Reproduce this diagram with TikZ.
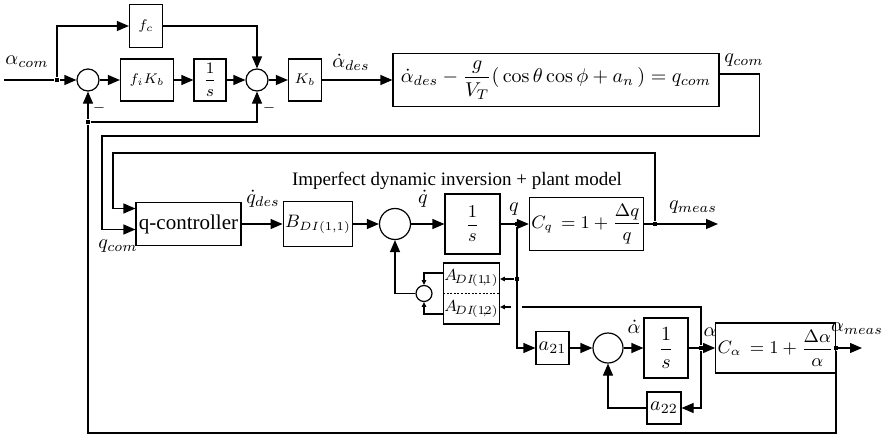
\documentclass[tikz,border=0pt]{standalone}
\usepackage{amsmath}
\usepackage[no-math]{fontspec}
\setmainfont{Liberation Serif}
\usetikzlibrary{arrows.meta}

\begin{document}
\begin{tikzpicture}[
x=0.5pt, y=-0.5pt,
line width=0.6pt,
% every node/.style={draw=red},
block/.style ={draw, inner sep=1pt, align=center},
sum/.style ={draw, circle, inner sep=0pt, minimum size=#1},
junction/.style ={fill, rectangle, inner sep=0pt, minimum size=2.2pt},
arr/.style ={-{Triangle[length=6pt,width=5pt]}},
sarr/.style ={-{Triangle[length=2.4pt,width=2.2pt]}},
lbl/.style ={inner sep=0pt}
]
\useasboundingbox (0,0) rectangle (884,434);

% outer alpha loop
\coordinate (cin) at (4,80);
\node[junction] (dA) at (57,80) {};
\node[junction] (dB) at (88,122) {};
\node[block, minimum width=16.5pt, minimum height=21.5pt] (fc) at (146,26) {\scriptsize $f_c$};
\node[sum=11pt] (s1) at (88,80) {};
\node[block, minimum width=26.5pt, minimum height=21pt] (fiKb) at (147,80) {\scriptsize $f_iK_b$};
\node[block, minimum width=16pt, minimum height=21pt] (int1) at (210,80) {\footnotesize $\displaystyle\frac{1}{s}$};
\node[sum=11pt] (s2) at (257,80) {};
\node[block, minimum width=16.5pt, minimum height=21pt] (Kb) at (305,80) {\scriptsize $K_b$};
\node[block, minimum width=163pt, minimum height=26.5pt, inner sep=2pt] (eq) at (556,80)
	{$\dot{\alpha}_{des}-\dfrac{g}{V_T}(\,\cos\theta\cos\phi+a_n\,)=q_{com}$};

\node[lbl] (l-acom) at (27,62) {$\alpha_{com}$};
\node[lbl] (l-ades) at (351,62) {$\dot{\alpha}_{des}$};
\node[lbl] (l-qcom) at (744,60) {$q_{com}$};
\node[lbl] (m1) at (99,108) {\scriptsize $-$};
\node[lbl] (m2) at (269,108) {\scriptsize $-$};

\draw (cin) -- (dA);
\draw[arr] (dA) -- (s1);
\draw[arr] (dA) |- (fc);
\draw[arr] (fc) -| (s2);
\draw[arr] (s1) -- (fiKb);
\draw[arr] (fiKb) -- (int1);
\draw[arr] (int1) -- (s2);
\draw[arr] (s2) -- (Kb);
\draw[arr] (Kb) -- (eq);
\draw[arr] (dB) -- (s1);
\draw[arr] (dB) -| (s2);

% q loop
\coordinate (cqc) at (102,136);
\coordinate (cqm) at (113,153);
\node[block, minimum width=52.5pt, minimum height=21.5pt] (qc) at (188.5,224) {\fontsize{10.5}{12}\selectfont q-controller};
\node[block, minimum width=28pt, minimum height=22.5pt] (B) at (318,224) {\small $B_{DI(1,1)}$};
\node[sum=15.5pt] (s3) at (395,224) {};
\node[block, minimum width=27.5pt, minimum height=30pt] (int2) at (472.5,224) {\small $\displaystyle\frac{1}{s}$};
\node[junction] (dq) at (517,224) {};
\node[block, minimum width=48.5pt, minimum height=26.5pt] (Cq) at (586.5,224) {\small $C_q\,=1+\dfrac{\Delta q}{q}$};
\node[junction] (dqm) at (655,224) {};
\coordinate (qout) at (718,224);

\node[lbl] (l-title) at (457,181) {\fontsize{9.5}{11}\selectfont Imperfect dynamic inversion + plant model};
\node[lbl] (l-qcom2) at (118,246) {$q_{com}$};
\node[lbl] (l-qdes) at (263,199) {$\dot{q}_{des}$};
\node[lbl] (l-qdot) at (423,199) {$\dot{q}$};
\node[lbl] (l-q) at (514,209) {$q$};
\node[lbl] (l-qmeas) at (693,207) {$q_{meas}$};

\draw[arr] ([yshift=3pt]eq.east) -- ++(40,0) |- (cqc) |- ([yshift=-2.75pt]qc.west);
\draw[arr] (dqm) |- (cqm) |- ([yshift=7.75pt]qc.west);
\draw[arr] (qc) -- (B);
\draw[arr] (B) -- (s3);
\draw[arr] (s3) -- (int2);
\draw[arr] (int2) -- (Cq);
\draw[arr] (Cq) -- (qout);

% A_DI block
\node[draw, minimum width=28pt, minimum height=30.5pt] (ADI) at (471.5,293.5) {};
\draw[dash pattern=on 1pt off 0.8pt, line width=0.4pt] (ADI.west) -- (ADI.east);
\node[lbl] (l-a11) at (471.5,278) {\footnotesize $A_{\!DI\!(1\!,\!1)}$};
\node[lbl] (l-a12) at (471.5,309) {\footnotesize $A_{\!DI\!(1\!,\!2)}$};
\node[sum=8pt] (s5) at (424,293.5) {};
\coordinate (a11out) at (444,273);
\coordinate (a12out) at (444,314);
\node[junction] (dq1) at (517,279) {};

\draw[sarr] (a11out) -| (s5);
\draw[sarr] (a12out) -| (s5);
\draw[arr] (s5) -| (s3);
\draw[sarr] (dq1) -- (dq1 -| ADI.east);

% alpha dynamics
\node[block, minimum width=16.5pt, minimum height=16.5pt] (a21) at (552.5,348) {$a_{21}$};
\node[sum=15pt] (s4) at (608,348) {};
\node[block, minimum width=22pt, minimum height=30pt] (int3) at (666,348) {$\displaystyle\frac{1}{s}$};
\node[junction] (dal) at (701,348) {};
\node[block, minimum width=52.5pt, minimum height=25pt] (Ca) at (775.5,348) {\small $C_\alpha\,=1+\dfrac{\Delta\alpha}{\alpha}$};
\node[junction] (dam) at (836,348) {};
\coordinate (aout) at (862,348);
\node[block, minimum width=17pt, minimum height=16pt] (a22) at (664,408) {$a_{22}$};
\coordinate (ahop) at (522,307);
\coordinate (ahop2) at (511,307);
\coordinate (cbot) at (88,433);

\node[lbl] (l-adot) at (634,327) {$\dot{\alpha}$};
\node[lbl] (l-a) at (710,332) {$\alpha$};
\node[lbl] (l-ameas) at (857,329) {$\alpha_{meas}$};

\draw[arr] (dq) |- (a21);
\draw[arr] (a21) -- (s4);
\draw[arr] (s4) -- (int3);
\draw[arr] (int3) -- (Ca);
\draw[arr] (Ca) -- (aout);
\draw[arr] (dal) |- (a22);
\draw[arr] (a22) -| (s4);
\draw (dal) |- (ahop);
\draw[sarr] (ahop2) -- (ahop2 -| ADI.east);
\draw (dam) |- (cbot) -- (dB);
\end{tikzpicture}
\end{document}
